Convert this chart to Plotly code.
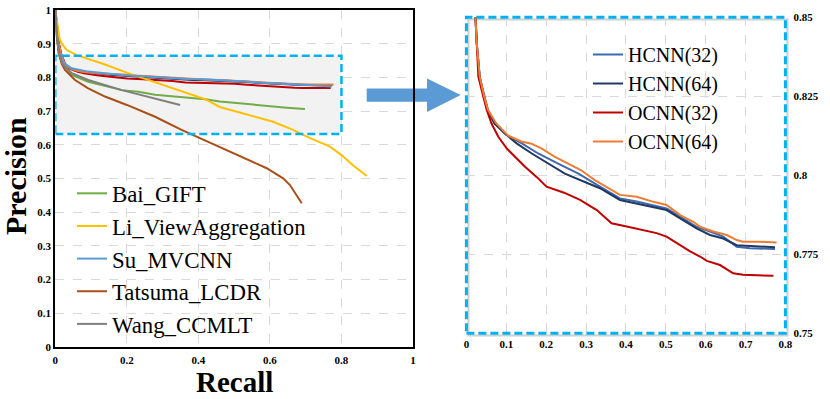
import plotly.graph_objects as go

# ---- data ----
bai_gift_x = [0, 0.004, 0.01, 0.02, 0.046, 0.092, 0.186, 0.232, 0.279, 0.372, 0.419, 0.46, 0.554, 0.647, 0.698]
bai_gift_y = [1.0, 0.93, 0.87, 0.84, 0.807, 0.787, 0.762, 0.757, 0.748, 0.738, 0.735, 0.728, 0.718, 0.710, 0.706]

li_view_x = [0, 0.006, 0.012, 0.018, 0.032, 0.06, 0.106, 0.139, 0.2, 0.279, 0.353, 0.419, 0.46, 0.554,
             0.609, 0.665, 0.703, 0.768, 0.80, 0.833, 0.871]
li_view_y = [1.0, 0.95, 0.915, 0.9, 0.881, 0.866, 0.851, 0.838, 0.814, 0.786, 0.759, 0.735, 0.712, 0.683,
             0.668, 0.644, 0.624, 0.594, 0.569, 0.538, 0.507]

su_mvcnn_x = [0, 0.004, 0.01, 0.02, 0.046, 0.092, 0.186, 0.279, 0.367, 0.419, 0.554, 0.65, 0.773]
su_mvcnn_y = [1.0, 0.93, 0.875, 0.845, 0.827, 0.817, 0.807, 0.800, 0.795, 0.794, 0.785, 0.780, 0.773]

tatsuma_x = [0, 0.004, 0.01, 0.018, 0.027, 0.055, 0.092, 0.139, 0.2, 0.279, 0.353, 0.405, 0.46, 0.498,
             0.554, 0.591, 0.637, 0.656, 0.689]
tatsuma_y = [1.0, 0.92, 0.87, 0.84, 0.822, 0.792, 0.767, 0.743, 0.718, 0.683, 0.644, 0.619, 0.592, 0.574,
             0.547, 0.530, 0.500, 0.480, 0.426]

wang_x = [0, 0.004, 0.01, 0.02, 0.046, 0.092, 0.186, 0.279, 0.349]
wang_y = [1.0, 0.93, 0.87, 0.84, 0.812, 0.792, 0.762, 0.738, 0.718]

hcnn32_x = [0, 0.004, 0.01, 0.016, 0.0226, 0.026, 0.0334, 0.0443, 0.054, 0.073, 0.1, 0.139, 0.180, 0.230,
            0.281, 0.335, 0.385, 0.427, 0.469, 0.502, 0.536, 0.577, 0.611, 0.644, 0.678, 0.711, 0.774]
hcnn32_y = [1.0, 0.95, 0.90, 0.87, 0.85, 0.8418, 0.8312, 0.8252, 0.8207, 0.8162, 0.8128, 0.8101, 0.8069,
            0.8037, 0.8005, 0.7964, 0.7927, 0.7917, 0.7906, 0.7895, 0.7869, 0.7837, 0.7822, 0.7806, 0.7774,
            0.7769, 0.7767]

hcnn64_x = [0, 0.004, 0.01, 0.016, 0.0226, 0.026, 0.0334, 0.0443, 0.054, 0.070, 0.096, 0.126, 0.164, 0.205,
            0.247, 0.306, 0.335, 0.385, 0.427, 0.469, 0.502, 0.536, 0.577, 0.611, 0.644, 0.678, 0.711, 0.774]
hcnn64_y = [1.0, 0.95, 0.90, 0.87, 0.85, 0.8416, 0.8310, 0.8248, 0.8205, 0.8164, 0.8133, 0.8101, 0.8069,
            0.8037, 0.8005, 0.7974, 0.7959, 0.7922, 0.7911, 0.7901, 0.789, 0.7864, 0.7832, 0.7811, 0.78,
            0.7779, 0.7776, 0.7772]

ocnn32_x = [0, 0.004, 0.01, 0.016, 0.023, 0.030, 0.042, 0.051, 0.063, 0.080, 0.101, 0.122, 0.147, 0.176,
            0.201, 0.245, 0.285, 0.327, 0.364, 0.402, 0.444, 0.477, 0.502, 0.536, 0.561, 0.586, 0.603,
            0.636, 0.669, 0.694, 0.770]
ocnn32_y = [1.0, 0.95, 0.90, 0.87, 0.85, 0.8312, 0.825, 0.8207, 0.8164, 0.8122, 0.8085, 0.8058, 0.8027,
            0.7995, 0.7964, 0.7945, 0.7922, 0.7890, 0.7848, 0.7838, 0.7827, 0.7817, 0.7806, 0.778, 0.7759,
            0.7743, 0.7729, 0.7716, 0.769, 0.7685, 0.7682]

ocnn64_x = [0, 0.004, 0.01, 0.016, 0.0226, 0.026, 0.0334, 0.0443, 0.054, 0.075, 0.104, 0.138, 0.163, 0.188,
            0.222, 0.255, 0.288, 0.322, 0.335, 0.385, 0.427, 0.469, 0.502, 0.536, 0.569, 0.586, 0.619,
            0.653, 0.678, 0.694, 0.736, 0.778]
ocnn64_y = [1.0, 0.95, 0.90, 0.87, 0.85, 0.8418, 0.8312, 0.825, 0.8207, 0.8164, 0.8126, 0.8107, 0.810,
            0.8085, 0.8058, 0.8037, 0.8016, 0.7985, 0.7975, 0.7938, 0.7932, 0.7916, 0.7906, 0.7874, 0.7853,
            0.7837, 0.7822, 0.7811, 0.7795, 0.779, 0.779, 0.7787]

left_series = [
    ("Bai_GIFT", bai_gift_x, bai_gift_y, "#70AD47"),
    ("Li_ViewAggregation", li_view_x, li_view_y, "#FFC000"),
    ("Su_MVCNN", su_mvcnn_x, su_mvcnn_y, "#5B9BD5"),
    ("Tatsuma_LCDR", tatsuma_x, tatsuma_y, "#A9501A"),
    ("Wang_CCMLT", wang_x, wang_y, "#7F7F7F"),
]
right_series = [
    ("HCNN(32)", hcnn32_x, hcnn32_y, "#3F68B0"),
    ("HCNN(64)", hcnn64_x, hcnn64_y, "#1F3864"),
    ("OCNN(32)", ocnn32_x, ocnn32_y, "#C00000"),
    ("OCNN(64)", ocnn64_x, ocnn64_y, "#ED7D31"),
]

FONT = "Liberation Serif, DejaVu Serif, serif"
W, H = 830, 399
DASH_BLUE = "#00B0F0"


def fx(px):
    """pixel x -> paper x"""
    return px / W


def fy(py):
    """pixel y (from top) -> paper y"""
    return 1 - py / H


def path_from_pixels(points):
    parts = ["M{:.4f},{:.4f}".format(fx(points[0][0]), fy(points[0][1]))]
    for px, py in points[1:]:
        parts.append("L{:.4f},{:.4f}".format(fx(px), fy(py)))
    return " ".join(parts) + " Z"


tick_font = dict(family=FONT, size=11, color="black", weight="bold")
grid = dict(showgrid=True, gridcolor="#d9d9d9", griddash="dash", gridwidth=1, zeroline=False, ticks="",
            automargin=False)

fig = go.Figure()

# overview: the zoomed curves also live in the left panel
for name, xs, ys, color in right_series:
    fig.add_trace(go.Scatter(x=xs, y=ys, mode="lines", line=dict(color=color, width=2),
                             showlegend=False, xaxis="x", yaxis="y"))
for name, xs, ys, color in left_series:
    fig.add_trace(go.Scatter(x=xs, y=ys, name=name, mode="lines", line=dict(color=color, width=2),
                             legend="legend", xaxis="x", yaxis="y"))
for name, xs, ys, color in right_series:
    fig.add_trace(go.Scatter(x=xs, y=ys, name=name, mode="lines", line=dict(color=color, width=2),
                             legend="legend2", xaxis="x2", yaxis="y2"))

fig.update_layout(
    width=W, height=H,
    margin=dict(l=0, r=0, t=0, b=0, autoexpand=False),
    font=dict(family=FONT, color="black"),
    paper_bgcolor="white",
    plot_bgcolor="rgba(0,0,0,0)",
    xaxis=dict(domain=[fx(55.3), fx(413)], range=[0, 1], dtick=0.2, tickfont=tick_font, ticklabelstandoff=2,
               showline=True, mirror=True, linecolor="black", linewidth=2, **grid),
    yaxis=dict(domain=[fy(346.7), fy(10)], range=[0, 1], dtick=0.1, tickfont=tick_font,
               showline=True, mirror=True, linecolor="black", linewidth=2, **grid),
    xaxis2=dict(domain=[fx(466.4), fx(785.4)], range=[0, 0.8], dtick=0.1, tickfont=tick_font,
                ticklabelstandoff=3, anchor="y2", showline=False, **grid),
    yaxis2=dict(domain=[fy(333.3), fy(17.3)], range=[0.75, 0.85], dtick=0.025, tickfont=tick_font,
                ticklabelstandoff=7, anchor="x2", side="right", showline=False, **grid),
    legend=dict(x=fx(72), y=fy(172), xanchor="left", yanchor="top", bgcolor="rgba(0,0,0,0)",
                font=dict(family=FONT, size=22.8, color="black"), tracegroupgap=0, itemwidth=30),
    legend2=dict(x=fx(588), y=fy(35), xanchor="left", yanchor="top", bgcolor="rgba(0,0,0,0)",
                 font=dict(family=FONT, size=20, color="black"), tracegroupgap=0, itemwidth=30),
    showlegend=True,
)

# zoom window on the overview
fig.add_shape(type="rect", xref="x", yref="y", x0=0, x1=0.8, y0=0.632, y1=0.864,
              fillcolor="#f2f2f2", line=dict(width=0), layer="between")
fig.add_shape(type="rect", xref="x", yref="y", x0=0, x1=0.8, y0=0.632, y1=0.864,
              line=dict(color=DASH_BLUE, width=2.5, dash="8px,4px"), layer="above")

# frame of the zoomed panel (with a soft shadow)
fig.add_shape(type="rect", xref="paper", yref="paper", x0=fx(468.5), x1=fx(787.5), y0=fy(335.5), y1=fy(19.5),
              line=dict(color="#cfcfcf", width=2), layer="below")
fig.add_shape(type="rect", xref="x2 domain", yref="y2 domain", x0=0, x1=1, y0=0, y1=1,
              line=dict(color=DASH_BLUE, width=3, dash="8px,4px"), layer="above")

# arrow between panels
arrow = [(366.7, 88.5), (427, 88.5), (427, 78.5), (460.7, 95), (427, 112), (427, 101.7), (366.7, 101.7)]
fig.add_shape(type="path", xref="paper", yref="paper", path=path_from_pixels(arrow),
              fillcolor="#5B9BD5", line=dict(width=0), layer="below")

# axis titles
title_font = dict(family=FONT, size=29, color="black", weight="bold")
fig.add_annotation(text="Recall", x=fx(234), y=fy(382), xref="paper", yref="paper",
                   xanchor="center", yanchor="middle", showarrow=False, font=title_font)
fig.add_annotation(text="Precision", x=fx(15), y=fy(176), xref="paper", yref="paper",
                   xanchor="center", yanchor="middle", showarrow=False, textangle=-90,
                   font=dict(title_font, size=30))

# drop the browser's default page margin so the figure sits at the window corner
fig.write_html("out.html", config={"displayModeBar": False},
               post_script="document.body.style.margin = '0';")
